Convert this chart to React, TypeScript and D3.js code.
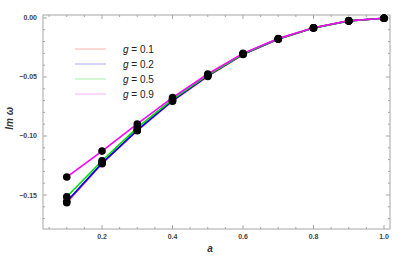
import React from "react";
import * as d3 from "d3";

// a values and Im(omega) for each g
const aValues = [0.1, 0.2, 0.3, 0.4, 0.5, 0.6, 0.7, 0.8, 0.9, 1.0];
const g01 = [-0.1565, -0.1235, -0.0955, -0.0705, -0.0495, -0.031, -0.018, -0.0085, -0.0025, -0.0003];
const g02 = [-0.1555, -0.123, -0.095, -0.07, -0.049, -0.0308, -0.0178, -0.0085, -0.0025, -0.0003];
const g05 = [-0.1515, -0.121, -0.093, -0.069, -0.0485, -0.0305, -0.0177, -0.0084, -0.0025, -0.0003];
const g09 = [-0.1348, -0.1128, -0.0898, -0.0675, -0.0475, -0.03, -0.0175, -0.0083, -0.0024, -0.0003];

const seriesLabels = ["0.1", "0.2", "0.5", "0.9"];
const seriesValues = [g01, g02, g05, g09];
const lineColors = ["#ff4040", "#0000ff", "#00dd00", "#ff00ff"];
const legendColors = ["#ffb0b0", "#a8a8ff", "#a8f0a8", "#ffb0ff"];

const xMajor = [0.2, 0.4, 0.6, 0.8, 1.0];
const yMajor = [0, -0.05, -0.1, -0.15];

const App = () => {
  const left = 43, right = 390, top = 15, bottom = 229;
  const x = d3.scaleLinear().domain([0.0326, 1.017]).range([left, right]);
  const y = d3.scaleLinear().domain([-0.1788, 0.0025]).range([bottom, top]);

  const xMinor = d3.range(0.05, 1.0001, 0.05).filter((v) => !xMajor.some((m) => Math.abs(m - v) < 1e-6));
  const yMinor = d3.range(-0.17, 0.0001, 0.01).filter((v) => !yMajor.some((m) => Math.abs(m - v) < 1e-6));

  const line = d3
    .line<number>()
    .x((d, i) => x(aValues[i]))
    .y((d) => y(d));

  const frame = "#a6a6a6";
  const fmt = (v: number) => (v === 0 ? "0.00" : "\u2212" + Math.abs(v).toFixed(2));

  return (
    <svg width={415} height={259} style={{ position: "absolute", left: 0, top: 0 }}>
      <rect x={0} y={0} width={415} height={259} fill="white" />
      <rect x={left} y={top} width={right - left} height={bottom - top} fill="none" stroke={frame} strokeWidth={1} />

      {/* x ticks, bottom and top */}
      {xMajor.map((v) => (
        <g key={"xM" + v}>
          <line x1={x(v)} x2={x(v)} y1={bottom} y2={bottom - 4} stroke={frame} />
          <line x1={x(v)} x2={x(v)} y1={top} y2={top + 4} stroke={frame} />
          <text x={x(v)} y={239} textAnchor="middle" fontSize={7} fontWeight="bold" fill="#444" fontFamily="Liberation Sans, Arial, sans-serif">
            {v.toFixed(1)}
          </text>
        </g>
      ))}
      {xMinor.map((v) => (
        <g key={"xm" + v}>
          <line x1={x(v)} x2={x(v)} y1={bottom} y2={bottom - 2} stroke={frame} />
          <line x1={x(v)} x2={x(v)} y1={top} y2={top + 2} stroke={frame} />
        </g>
      ))}

      {/* y ticks, left and right */}
      {yMajor.map((v) => (
        <g key={"yM" + v}>
          <line x1={left} x2={left + 4} y1={y(v)} y2={y(v)} stroke={frame} />
          <line x1={right} x2={right - 4} y1={y(v)} y2={y(v)} stroke={frame} />
          <text x={37} y={y(v) + 2.5} textAnchor="end" fontSize={7} fontWeight="bold" fill="#444" fontFamily="Liberation Sans, Arial, sans-serif">
            {fmt(v)}
          </text>
        </g>
      ))}
      {yMinor.map((v) => (
        <g key={"ym" + v}>
          <line x1={left} x2={left + 2} y1={y(v)} y2={y(v)} stroke={frame} />
          <line x1={right} x2={right - 2} y1={y(v)} y2={y(v)} stroke={frame} />
        </g>
      ))}

      {/* series */}
      {seriesValues.map((vals, i) => (
        <path key={"s" + i} d={line(vals) || ""} fill="none" stroke={lineColors[i]} strokeWidth={1.6} />
      ))}
      {seriesValues.map((vals, i) =>
        vals.map((v, j) => <circle key={"p" + i + "-" + j} cx={x(aValues[j])} cy={y(v)} r={3.8} fill="black" />)
      )}

      {/* legend */}
      {seriesLabels.map((lab, i) => (
        <g key={"l" + i} transform={`translate(0,${49 + i * 15})`}>
          <line x1={75} x2={106} y1={0} y2={0} stroke={legendColors[i]} strokeWidth={1} />
          <text x={123} y={3.5} fontSize={10} fill="#222" fontFamily="Liberation Sans, Arial, sans-serif">
            <tspan fontStyle="italic">g</tspan> = {lab}
          </text>
        </g>
      ))}

      {/* axis labels */}
      <text x={210} y={252} textAnchor="middle" fontSize={10} fontWeight="bold" fontStyle="italic" fill="#333" fontFamily="Liberation Sans, Arial, sans-serif">
        a
      </text>
      <text
        transform={`translate(13,${y(-0.085)}) rotate(-90)`}
        textAnchor="middle"
        fontSize={10}
        fontWeight="bold"
        fontStyle="italic"
        fill="#333"
        fontFamily="Liberation Sans, Arial, sans-serif"
      >
        Im ω
      </text>
    </svg>
  );
};

export default App;
